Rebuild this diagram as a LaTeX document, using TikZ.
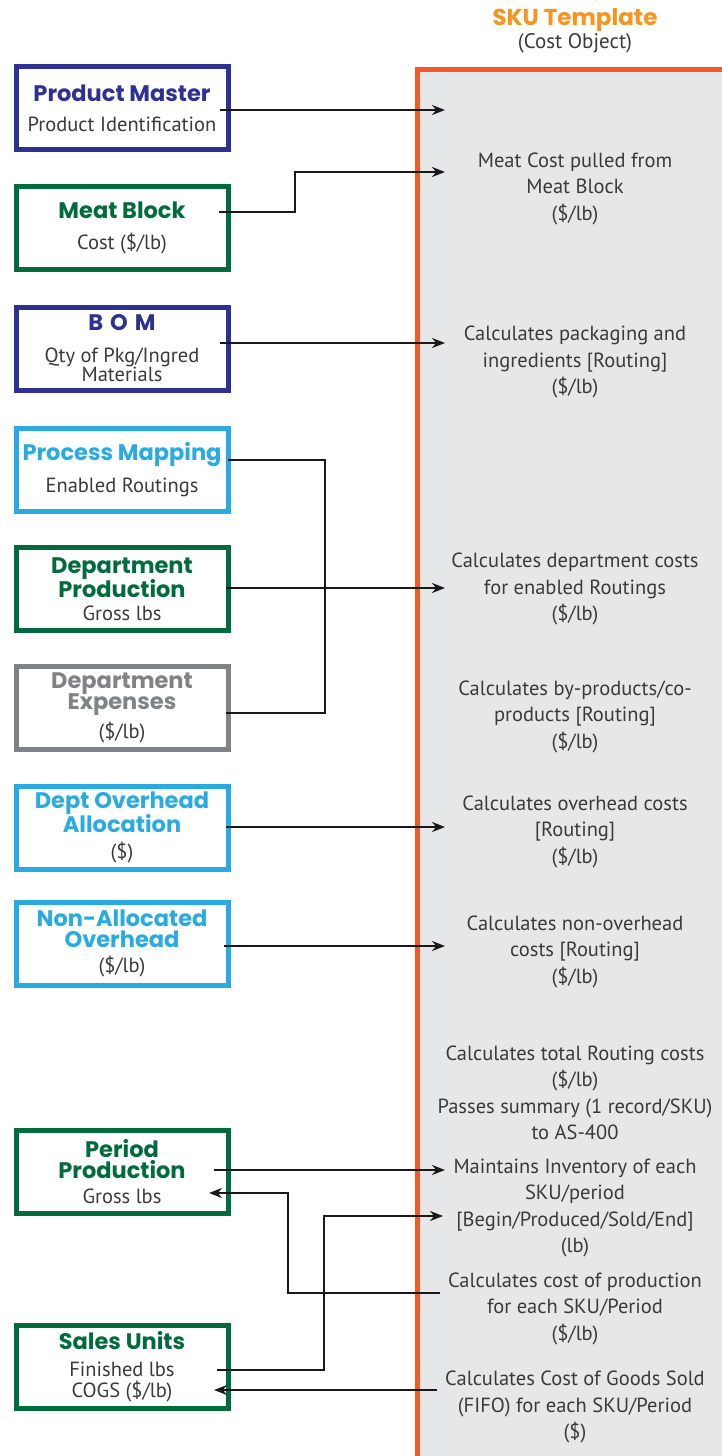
\documentclass[tikz,border=0pt]{standalone}
\usepackage{fontspec}
\setmainfont{PT Sans}
\newfontfamily\headfont{Poppins}
\usetikzlibrary{arrows.meta}

\definecolor{navy}{HTML}{2E3192}
\definecolor{leaf}{HTML}{006B3C}
\definecolor{sky}{HTML}{29ABE2}
\definecolor{slate}{HTML}{808285}
\definecolor{amber}{HTML}{F7941D}
\definecolor{rust}{HTML}{F15A29}
\definecolor{paper}{HTML}{E6E7E8}
\definecolor{ink}{HTML}{3A3A3C}

\newcommand{\boxhead}[2]{{\headfont\fontsize{22.5}{20}\selectfont\bfseries\color{#1}#2}}

\begin{document}
\begin{tikzpicture}[x=1pt, y=-1pt]
    % Define styles for shapes
    \tikzstyle{card} = [draw, line width=5pt, fill=white, minimum width=212pt, minimum height=83pt, inner sep=0pt, align=center, text=ink, font=\fontsize{20.5}{20}\selectfont]
    \tikzstyle{note} = [align=center, text=ink, font=\fontsize{20.5}{26.5}\selectfont]
    \tikzstyle{panel} = [draw=rust, line width=5pt, fill=paper, anchor=north west, minimum width=330pt, minimum height=1410pt]
    \tikzstyle{flow} = [->, >={Stealth[length=13pt, width=10pt]}, line width=2.5pt, draw=black!90]
    \tikzstyle{link} = [line width=2.5pt, draw=black!90]

    \useasboundingbox (0,0) rectangle (721,1456);

    % The SKU template column
    \node[panel] (sku) at (415,67) {};
    \node[font=\headfont\fontsize{23}{20}\selectfont\bfseries, text=amber] (skuhead) at (575,20) {SKU Template};
    \node[font=\fontsize{21}{21}\selectfont, text=ink] (skusub) at (575,43) {(Cost Object)};

    % Draw the source boxes
    \node[card, draw=navy] (pm) at (122,108) {\boxhead{navy}{Product Master}\\[10pt] Product Identification};
    \node[card, draw=leaf] (mb) at (122,228) {\boxhead{leaf}{Meat Block}\\[11pt] Cost (\$/lb)};
    \node[card, draw=navy] (bom) at (122,348.5) {\boxhead{navy}{B\hspace{7pt}O\hspace{7pt}M}\\[12pt] Qty of Pkg/Ingred\\[-1pt] Materials};
    \node[card, draw=sky] (pmap) at (122,469.5) {\boxhead{sky}{Process Mapping}\\[10pt] Enabled Routings};
    \node[card, draw=leaf] (dprod) at (122,589) {\boxhead{leaf}{Department}\\[-1pt]\boxhead{leaf}{Production}\\[3pt] Gross lbs};
    \node[card, draw=slate] (dexp) at (122,707.5) {\boxhead{slate}{Department}\\[-1pt]\boxhead{slate}{Expenses}\\[5pt] (\$/lb)};
    \node[card, draw=sky] (doh) at (122,827.5) {\boxhead{sky}{Dept Overhead}\\[-1pt]\boxhead{sky}{Allocation}\\[6pt] (\$)};
    \node[card, draw=sky] (nao) at (122,943.5) {\boxhead{sky}{Non-Allocated}\\[1pt]\boxhead{sky}{Overhead}\\[5pt] (\$/lb)};
    \node[card, draw=leaf] (pp) at (122,1171.5) {\boxhead{leaf}{Period}\\[1pt]\boxhead{leaf}{Production}\\[5pt] Gross lbs};
    \node[card, draw=leaf] (su) at (122,1366.5) {\boxhead{leaf}{Sales Units}\\[7pt] Finished lbs\\[1pt] COGS (\$/lb)};

    % Texts inside the SKU template
    \node[note] (r1) at (575,188.5) {Meat Cost pulled from\\ Meat Block\\ (\$/lb)};
    \node[note] (r2) at (575,362) {Calculates packaging and\\ ingredients [Routing]\\ (\$/lb)};
    \node[note] (r3) at (575,589) {Calculates department costs\\ for enabled Routings\\ (\$/lb)};
    \node[note] (r4) at (575,716.5) {Calculates by-products/co-\\ products [Routing]\\ (\$/lb)};
    \node[note] (r5) at (575,831.5) {Calculates overhead costs\\ {[Routing]}\\ (\$/lb)};
    \node[note] (r6) at (575,951.5) {Calculates non-overhead\\ costs [Routing]\\ (\$/lb)};
    \node[note] (r7) at (575,1093) {Calculates total Routing costs\\ (\$/lb)\\ Passes summary (1 record/SKU)\\ to AS-400};
    \node[note] (r8) at (575,1208) {Maintains Inventory of each\\ SKU/period\\ {[Begin/Produced/Sold/End]}\\ (lb)};
    \node[note] (r9) at (575,1308.5) {Calculates cost of production\\ for each SKU/Period\\ (\$/lb)};
    \node[note] (r10) at (575,1407) {Calculates Cost of Goods Sold\\ (FIFO) for each SKU/Period\\ (\$)};

    % Arrow ends on the template
    \coordinate (a1) at (445,110);
    \coordinate (a2) at (445,172);
    \coordinate (a3) at (445,343);
    \coordinate (a4) at (445,588);
    \coordinate (a5) at (445,827);
    \coordinate (a6) at (445,946);
    \coordinate (a7) at (445,1170);
    \coordinate (a8) at (443,1216);
    \coordinate (b1) at (440,1293);
    \coordinate (b2) at (437,1390);

    % Draw the arrows
    \draw[flow] ([xshift=-10.5pt]pm.east |- a1) -- (a1);
    \draw[flow] ([xshift=-11.5pt,yshift=16pt]mb.east) -- ++(76,0) |- (a2);
    \draw[flow] ([xshift=-10.5pt]bom.east |- a3) -- (a3);
    \draw[link] ([xshift=-2.5pt,yshift=9.5pt]pmap.east) -- ++(97,0) |- ([xshift=-4.5pt,yshift=-5.5pt]dexp.east);
    \draw[flow] ([xshift=-4.5pt]dprod.east |- a4) -- (a4);
    \draw[flow] ([xshift=-4.5pt]doh.east |- a5) -- (a5);
    \draw[flow] ([xshift=-6.5pt]nao.east |- a6) -- (a6);
    \draw[flow] ([xshift=-16.5pt]pp.east |- a7) -- (a7);
    \draw[flow] (b1) -- ++(-152,0) |- ([xshift=-21.5pt,yshift=-21.5pt]pp.east);
    \draw[flow] ([xshift=-13.5pt,yshift=-3.5pt]su.east) -- ++(107,0) |- (a8);
    \draw[flow] (b2) -- ([xshift=-16.5pt]su.east |- b2);

\end{tikzpicture}
\end{document}
